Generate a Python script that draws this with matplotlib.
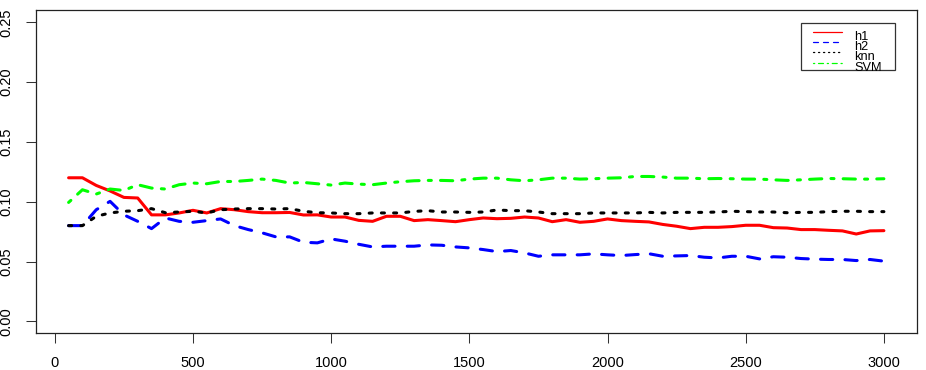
import numpy as np
import matplotlib
matplotlib.use("Agg")
import matplotlib.pyplot as plt
from matplotlib.lines import Line2D
from matplotlib.patches import Rectangle

# training sizes
sizes = np.arange(50, 3001, 50)

h1 = [0.120, 0.120, 0.1136, 0.109, 0.1036, 0.1031, 0.089, 0.089, 0.0906, 0.0928,
      0.0906, 0.0942, 0.0933, 0.0917, 0.0908, 0.0908, 0.091, 0.0889, 0.089, 0.0872,
      0.0872, 0.0844, 0.0836, 0.0878, 0.0878, 0.0842, 0.085, 0.0842, 0.0833, 0.085,
      0.0864, 0.0858, 0.0861, 0.0872, 0.0864, 0.0833, 0.085, 0.0828, 0.0836, 0.0856,
      0.0842, 0.0836, 0.0831, 0.081, 0.0795, 0.0775, 0.0786, 0.0786, 0.0792, 0.0803,
      0.0803, 0.0783, 0.078, 0.0767, 0.0767, 0.0761, 0.0756, 0.073, 0.0756, 0.0758]

h2 = [0.080, 0.080, 0.0933, 0.1003, 0.089, 0.0836, 0.0775, 0.0864, 0.0836, 0.0828,
      0.0842, 0.0856, 0.080, 0.0767, 0.074, 0.0706, 0.0706, 0.0661, 0.0656, 0.0689,
      0.067, 0.0644, 0.0622, 0.0628, 0.0628, 0.0628, 0.0639, 0.0636, 0.0622, 0.0614,
      0.060, 0.0583, 0.0592, 0.0572, 0.0544, 0.0556, 0.0556, 0.0556, 0.0564, 0.0556,
      0.055, 0.0558, 0.0565, 0.0544, 0.0547, 0.055, 0.0536, 0.053, 0.0544, 0.0544,
      0.0522, 0.054, 0.0536, 0.0525, 0.052, 0.0517, 0.0517, 0.0508, 0.0517, 0.0503]

knn = [0.080, 0.080, 0.0878, 0.0906, 0.092, 0.0925, 0.0942, 0.0908, 0.0914, 0.092,
       0.0906, 0.0933, 0.0939, 0.0942, 0.0942, 0.0939, 0.0942, 0.092, 0.0908, 0.0906,
       0.090, 0.090, 0.0906, 0.0906, 0.0906, 0.0919, 0.0925, 0.0914, 0.0914, 0.0911,
       0.0914, 0.0931, 0.0925, 0.0925, 0.0914, 0.090, 0.090, 0.090, 0.0906, 0.0906,
       0.0906, 0.0906, 0.0911, 0.0906, 0.0911, 0.0911, 0.0911, 0.0914, 0.092, 0.0917,
       0.0914, 0.0914, 0.0908, 0.0911, 0.0911, 0.0917, 0.092, 0.092, 0.0917, 0.0917]

svm = [0.0994, 0.110, 0.1064, 0.1106, 0.1094, 0.1142, 0.1114, 0.1106, 0.1142, 0.1156,
       0.115, 0.1169, 0.1169, 0.1178, 0.1189, 0.1178, 0.1156, 0.1161, 0.115, 0.1139,
       0.1156, 0.1147, 0.1142, 0.1156, 0.1167, 0.1175, 0.1178, 0.1178, 0.1175, 0.1189,
       0.1197, 0.1197, 0.1183, 0.1175, 0.1183, 0.1197, 0.1197, 0.1189, 0.1192, 0.1197,
       0.120, 0.1211, 0.1211, 0.1206, 0.1197, 0.1197, 0.1192, 0.1194, 0.1192, 0.1189,
       0.1189, 0.1183, 0.1178, 0.1183, 0.1189, 0.1194, 0.1192, 0.1189, 0.1189, 0.1192]

labels = ["h1", "h2", "knn", "SVM"]
colors = ["#ff0000", "#0000ff", "#000000", "#00ff00"]
styles = [(0, ()), (0, (4, 4)), (0, (1, 3)), (0, (1, 3, 4, 3))]
series = [h1, h2, knn, svm]

xticks = [0, 500, 1000, 1500, 2000, 2500, 3000]
yticks = [0.00, 0.05, 0.10, 0.15, 0.20, 0.25]

plt.rcParams["font.family"] = ["Liberation Sans", "DejaVu Sans"]

W, H = 926, 370
fig = plt.figure(figsize=(W / 100, H / 100), dpi=100)

# axes box in pixels (left, top, right, bottom)
L, T, R, B = 36, 10.3, 916.5, 333.3
ax = fig.add_axes([L / W, 1 - B / H, (R - L) / W, (B - T) / H])

for y, c, ls in zip(series, colors, styles):
    ax.plot(sizes, y, color=c, linestyle=ls, linewidth=2.2,
            dash_capstyle="round", solid_capstyle="round", solid_joinstyle="round")

ax.set_xlim(-68, 3118)
ax.set_ylim(-0.01, 0.26)
ax.set_xticks(xticks)
ax.set_xticklabels([str(v) for v in xticks])
ax.set_yticks(yticks)
ax.set_yticklabels(["%.2f" % v for v in yticks], rotation=90, va="center")
ax.tick_params(axis="both", length=7, width=0.75, color="#333333", labelsize=10.5)
ax.tick_params(axis="x", pad=9)
ax.tick_params(axis="y", pad=9)
for s in ax.spines.values():
    s.set_linewidth(0.9)
    s.set_color("#222222")


# legend drawn by hand, positions in pixels
def fx(px):
    return px / W


def fy(py):
    return 1 - py / H


fig.patches.append(Rectangle((fx(801), fy(70)), fx(895) - fx(801), fy(23.3) - fy(70),
                             transform=fig.transFigure, fill=False,
                             edgecolor="#333333", linewidth=0.9))
for i, (lab, c, ls) in enumerate(zip(labels, colors, styles)):
    ly = 31.7 + 10.3 * i
    fig.lines.append(Line2D([fx(813), fx(842)], [fy(ly), fy(ly)], transform=fig.transFigure,
                            color=c, linestyle=ls, linewidth=0.9, dash_capstyle="round"))
    fig.text(fx(854), fy(ly + 8), lab, fontsize=9.2, ha="left", va="baseline")

fig.savefig("out.png", dpi=100)
